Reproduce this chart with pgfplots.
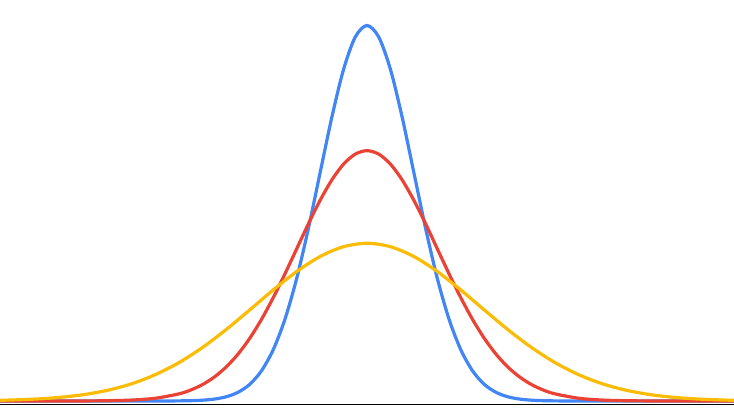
\documentclass[border=0pt]{standalone}
\usepackage{pgfplots}
\pgfplotsset{compat=1.18}
\definecolor{gblue}{HTML}{4285F4}
\definecolor{gred}{HTML}{EA4335}
\definecolor{gyellow}{HTML}{FBBC05}
\begin{document}
\begin{tikzpicture}
\useasboundingbox (0,0) rectangle (734pt,410pt);
\begin{axis}[
  at={(0,0)}, anchor=south west,
  scale only axis, width=734pt, height=410pt,
  hide axis,
  xmin=-7.81, xmax=7.81, ymin=-9.06, ymax=403.66,
]
\addplot[black, line width=1.8pt] coordinates {(-7.81,-3.52) (7.81,-3.52)};
% blue, sigma = 1
\addplot[gblue, line width=3.2pt, smooth] coordinates {
(-7.81,0) (-6,0) (-5,0) (-4.5,0.015) (-4,0.13) (-3.75,0.33) (-3.5,0.83) (-3.25,1.92) (-3,4.20)
(-2.75,8.62) (-2.5,16.61) (-2.25,30.07) (-2,51.16) (-1.75,81.75) (-1.5,122.7) (-1.25,173.1)
(-1,229.3) (-0.75,285.3) (-0.5,333.6) (-0.25,366.4) (0,378)
(0.25,366.4) (0.5,333.6) (0.75,285.3) (1,229.3) (1.25,173.1) (1.5,122.7) (1.75,81.75)
(2,51.16) (2.25,30.07) (2.5,16.61) (2.75,8.62) (3,4.20) (3.25,1.92) (3.5,0.83) (3.75,0.33)
(4,0.13) (4.5,0.015) (5,0) (6,0) (7.81,0)};
% red, sigma = 1.5
\addplot[gred, line width=3.2pt, smooth] coordinates {
(-7.81,0) (-7,0.01) (-6,0.08) (-5.5,0.30) (-5,0.97) (-4.5,2.80) (-4,7.20) (-3.75,11.07)
(-3.5,16.56) (-3.25,24.1) (-3,34.1) (-2.75,46.9) (-2.5,62.8) (-2.25,81.8) (-2,103.6)
(-1.75,127.6) (-1.5,152.8) (-1.25,178.1) (-1,201.8) (-0.75,222.4) (-0.5,238.4) (-0.25,248.5) (0,252)
(0.25,248.5) (0.5,238.4) (0.75,222.4) (1,201.8) (1.25,178.1) (1.5,152.8) (1.75,127.6)
(2,103.6) (2.25,81.8) (2.5,62.8) (2.75,46.9) (3,34.1) (3.25,24.1) (3.5,16.56) (3.75,11.07)
(4,7.20) (4.5,2.80) (5,0.97) (5.5,0.30) (6,0.08) (7,0.01) (7.81,0)};
% yellow, sigma = 2.38
\addplot[gyellow, line width=3.2pt, smooth] coordinates {
(-7.81,0.73) (-7.5,1.11) (-7,2.10) (-6.5,3.81) (-6,6.62) (-5.5,11.00) (-5,17.48) (-4.5,26.6)
(-4,38.7) (-3.5,53.9) (-3,71.8) (-2.5,91.5) (-2,111.6) (-1.5,130.2) (-1,145.4) (-0.5,155.3) (0,158.8)
(0.5,155.3) (1,145.4) (1.5,130.2) (2,111.6) (2.5,91.5) (3,71.8) (3.5,53.9) (4,38.7)
(4.5,26.6) (5,17.48) (5.5,11.00) (6,6.62) (6.5,3.81) (7,2.10) (7.5,1.11) (7.81,0.73)};
\end{axis}
\end{tikzpicture}
\end{document}
